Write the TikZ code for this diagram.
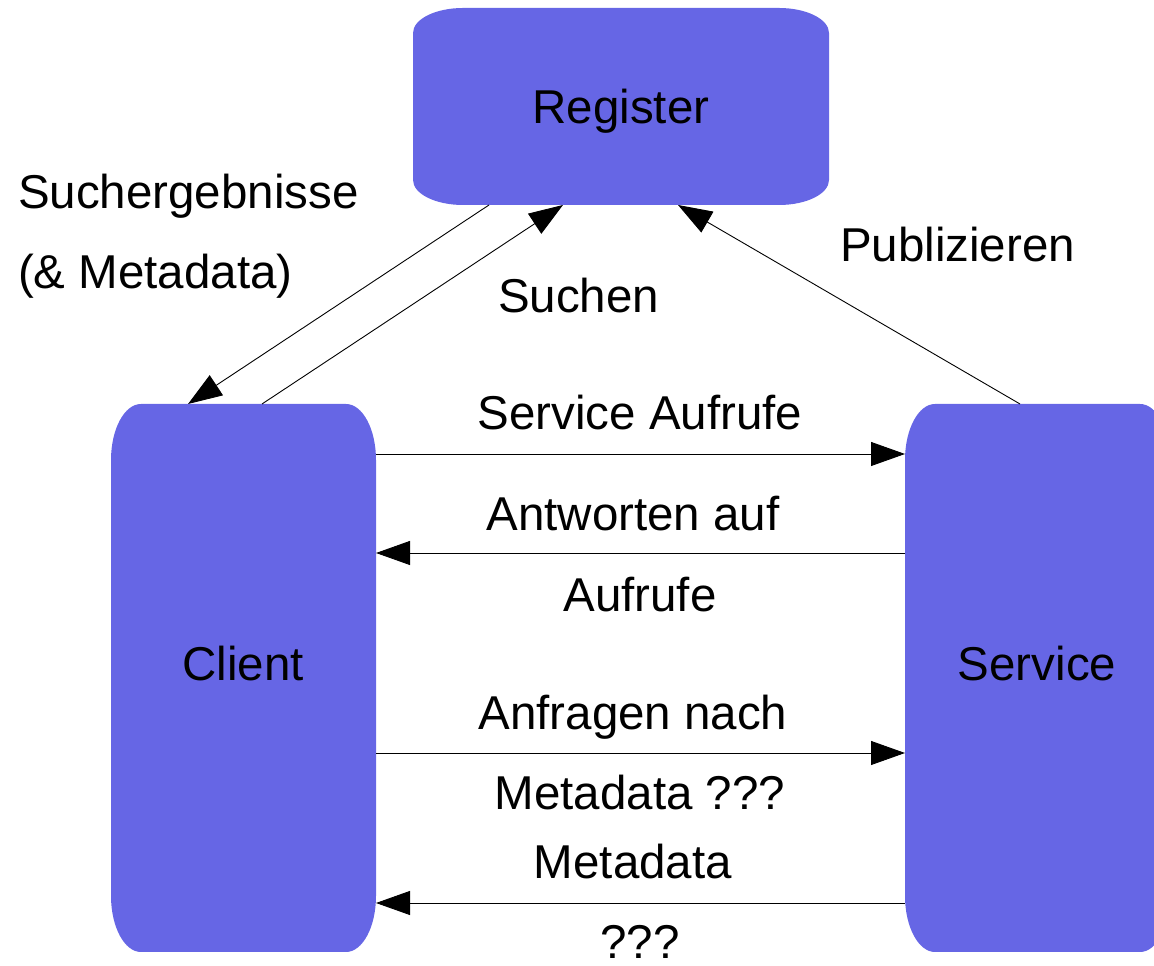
\documentclass[tikz,border=0pt]{standalone}
\usepackage{fontspec}
\setmainfont{Liberation Sans}
\usetikzlibrary{arrows.meta,calc,backgrounds}
\definecolor{boxblue}{RGB}{102,102,229}
\newcommand{\ellbox}[3]{%
  \fill[boxblue] ($(#1.north west)+(#2,0)$) -- ($(#1.north east)+(-#2,0)$)
    arc[start angle=90,end angle=0,x radius=#2,y radius=#3]
    -- ($(#1.south east)+(0,#3)$)
    arc[start angle=0,end angle=-90,x radius=#2,y radius=#3]
    -- ($(#1.south west)+(#2,0)$)
    arc[start angle=270,end angle=180,x radius=#2,y radius=#3]
    -- ($(#1.north west)+(0,-#3)$)
    arc[start angle=180,end angle=90,x radius=#2,y radius=#3] -- cycle;}
\tikzset{
  every node/.style={font=\fontsize{47.5}{57}\selectfont, inner sep=0pt, outer sep=0pt},
  boxnode/.style={draw=none, rectangle, minimum width=#1},
  conn/.style={line width=0.9pt, -{Triangle[length=34pt,width=24pt]}},
  lbl/.style={anchor=base},
  lblw/.style={anchor=base west}
}
\begin{document}
\begin{tikzpicture}[x=1pt,y=1pt]
\useasboundingbox (0,0) rectangle (1154,966);
\clip (0,0) rectangle (1154,966);
% boxes
\node[minimum width=416pt, minimum height=197pt] (register) at (621,859.5) {};
\node[minimum width=265pt, minimum height=548pt] (client) at (243.5,288) {};
\node[minimum width=265pt, minimum height=548pt] (service) at (1037.5,288) {};
\begin{scope}[on background layer]
  \ellbox{register}{50}{25}
  \ellbox{client}{30}{56}
  \ellbox{service}{30}{56}
\end{scope}
% box texts
\node[lbl] (tregister) at (621,842) {Register};
\node[lbl] (tclient) at (243,285) {Client};
\node[lbl] (tservice) at (1037,285) {Service};
% labels
\node[lblw] (lsuch1) at (18,757) {Suchergebnisse};
\node[lblw] (lsuch2) at (18,677) {(\& Metadata)};
\node[lblw] (lsuchen) at (498,653) {Suchen};
\node[lblw] (lpub) at (840,704) {Publizieren};
\node[lbl] (laufrufe) at (640,536) {Service Aufrufe};
\node[lbl] (lantw1) at (633,435) {Antworten auf};
\node[lbl] (lantw2) at (640,354) {Aufrufe};
\node[lbl] (lanf1) at (633,236) {Anfragen nach};
\node[lbl] (lanf2) at (640,156) {Metadata ???};
\node[lbl] (lmeta1) at (633,87) {Metadata};
\node[lbl] (lmeta2) at (640,7) {???};
% connectors
\draw[conn] ($(register.south west)+(76,0)$) -- ($(client.north west)+(77,0)$);
\draw[conn] ($(client.north west)+(151,0)$) -- ($(register.south west)+(150,0)$);
\draw[conn] ($(service.north west)+(115,0)$) -- ($(register.south west)+(265,0)$);
\draw[conn] ($(client.north east)+(0,-50)$) -- ($(service.north west)+(0,-50)$);
\draw[conn] ($(service.north west)+(0,-149)$) -- ($(client.north east)+(0,-149)$);
\draw[conn] ($(client.north east)+(0,-349)$) -- ($(service.north west)+(0,-349)$);
\draw[conn] ($(service.north west)+(0,-499)$) -- ($(client.north east)+(0,-499)$);
\end{tikzpicture}
\end{document}
